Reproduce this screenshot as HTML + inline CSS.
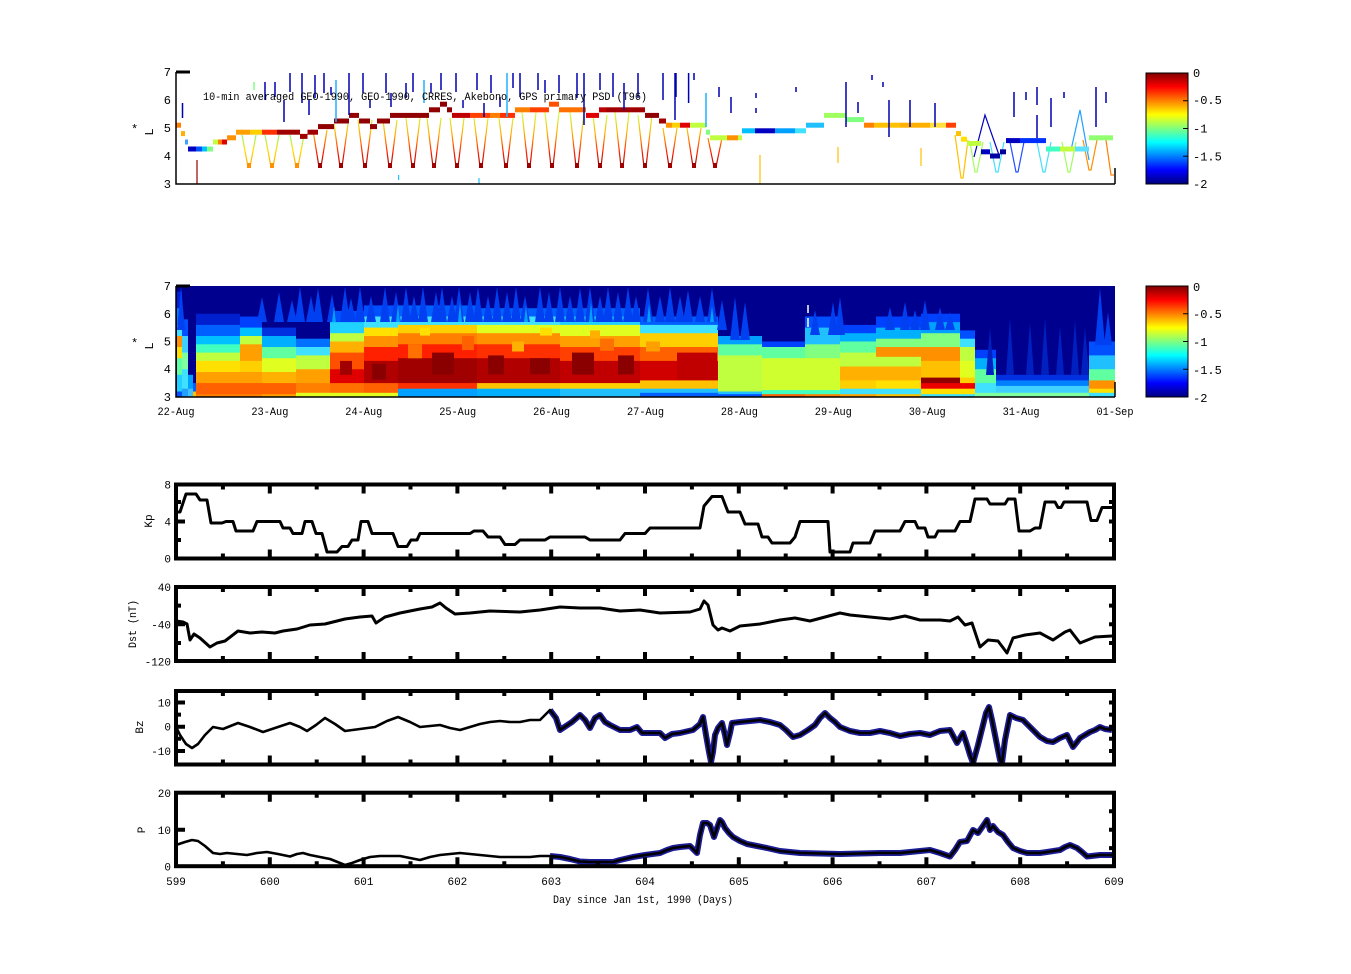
<!DOCTYPE html>
<html><head><meta charset="utf-8"><style>
html,body{margin:0;padding:0;background:#fff;width:1351px;height:974px;overflow:hidden}
svg{display:block}
text{font-family:"Liberation Mono","DejaVu Sans Mono",monospace;fill:#000}
</style></head><body>
<svg width="1351" height="974" viewBox="0 0 1351 974" xmlns="http://www.w3.org/2000/svg">
<defs>
<linearGradient id="jet" x1="0" y1="0" x2="0" y2="1">
<stop offset="0" stop-color="#800000"/><stop offset="0.125" stop-color="#ff0000"/><stop offset="0.375" stop-color="#ffff00"/><stop offset="0.625" stop-color="#00ffff"/><stop offset="0.875" stop-color="#0000ff"/><stop offset="1" stop-color="#000080"/>
</linearGradient>
<linearGradient id="vR" gradientUnits="userSpaceOnUse" x1="0" y1="115" x2="0" y2="168">
<stop offset="0" stop-color="#d0ff40"/><stop offset="0.35" stop-color="#ffb000"/><stop offset="0.7" stop-color="#ff2000"/><stop offset="1" stop-color="#900000"/>
</linearGradient>
<linearGradient id="vY" gradientUnits="userSpaceOnUse" x1="0" y1="130" x2="0" y2="168">
<stop offset="0" stop-color="#60ffa0"/><stop offset="0.5" stop-color="#ffe000"/><stop offset="1" stop-color="#ffa000"/>
</linearGradient>
<g id="tt"><path fill="none" stroke="#000" stroke-width="4" d="M269.8 0v9M363.6 0v9M457.4 0v9M551.2 0v9M645 0v9M738.8 0v9M832.6 0v9M926.4 0v9M1020.2 0v9M222.9 0v5M316.7 0v5M410.5 0v5M504.3 0v5M598.1 0v5M691.9 0v5M785.7 0v5M879.5 0v5M973.3 0v5M1067.1 0v5"/></g>
<g id="bt"><path fill="none" stroke="#000" stroke-width="4" d="M269.8 0v-9M363.6 0v-9M457.4 0v-9M551.2 0v-9M645 0v-9M738.8 0v-9M832.6 0v-9M926.4 0v-9M1020.2 0v-9M222.9 0v-5M316.7 0v-5M410.5 0v-5M504.3 0v-5M598.1 0v-5M691.9 0v-5M785.7 0v-5M879.5 0v-5M973.3 0v-5M1067.1 0v-5"/></g>
</defs>

<!-- ============ PANEL 1 ============ -->
<g fill="none" stroke-width="1.2">
<g stroke="url(#vY)">
<polyline points="242,135 248,167 250,167 256,135"/>
<polyline points="265,135 271,167 273,167 279,135"/>
<polyline points="290,135 296,167 298,167 304,135"/>
</g>
<g stroke="url(#vR)">
<polyline points="313,130 319,167 321,167 327,130"/>
<polyline points="334,124 340,167 342,167 348,124"/>
<polyline points="358,120 364,167 366,167 372,120"/>
<polyline points="383,120 389,167 391,167 397,120"/>
<polyline points="406,118 412,167 414,167 420,118"/>
<polyline points="427,118 433,167 435,167 441,118"/>
<polyline points="450,118 456,167 458,167 464,118"/>
<polyline points="474,118 480,167 482,167 488,118"/>
<polyline points="499,118 505,167 507,167 513,118"/>
<polyline points="522,112 528,167 530,167 536,112"/>
<polyline points="545,112 551,167 553,167 559,112"/>
<polyline points="570,112 576,167 578,167 584,112"/>
<polyline points="593,115 599,167 601,167 607,115"/>
<polyline points="615,112 621,167 623,167 629,112"/>
<polyline points="638,115 644,167 646,167 652,115"/>
<polyline points="663,128 669,167 671,167 677,128"/>
<polyline points="687,128 693,167 695,167 701,128"/>
<polyline points="708,138 714,167 716,167 722,138"/>
</g>
<polyline stroke="#ffc000" points="955,135 961,178 963,178 968,140"/>
<polyline stroke="#a0ff60" points="970,142 975,172 977,172 983,142"/>
<polyline stroke="#40e0ff" points="990,142 996,172 998,172 1004,142"/>
<polyline stroke="#2050ff" points="1010,142 1016,172 1018,172 1024,142"/>
<polyline stroke="#40e0ff" points="1037,142 1043,172 1045,172 1051,142"/>
<polyline stroke="#a0ff60" points="1062,142 1068,172 1070,172 1076,142"/>
<polyline stroke="#ff9000" points="1083,140 1089,170 1091,170 1097,140"/>
<polyline stroke="#ff8000" points="1106,140 1111,175 1114,175"/>
<polyline stroke="#0000c0" points="974,157 985,115 999,155"/>
<polyline stroke="#20a0ff" points="1071,150 1080,110 1089,160"/>
<path stroke="#ffc000" d="M760 155V184M838 147V163M921 148V166"/>
<path stroke="#900000" d="M197 160V184"/>
<path stroke="#20c0ff" d="M398.6 175V180M479 178V184"/>
</g>
<g fill="#a00000">
<rect x="318" y="163" width="4" height="5"/><rect x="339" y="163" width="4" height="5"/><rect x="363" y="163" width="4" height="5"/><rect x="388" y="163" width="4" height="5"/><rect x="411" y="163" width="4" height="5"/><rect x="432" y="163" width="4" height="5"/><rect x="455" y="163" width="4" height="5"/><rect x="479" y="163" width="4" height="5"/><rect x="504" y="163" width="4" height="5"/><rect x="527" y="163" width="4" height="5"/><rect x="550" y="163" width="4" height="5"/><rect x="575" y="163" width="4" height="5"/><rect x="598" y="163" width="4" height="5"/><rect x="620" y="163" width="4" height="5"/><rect x="643" y="163" width="4" height="5"/><rect x="668" y="163" width="4" height="5"/><rect x="692" y="163" width="4" height="5"/><rect x="713" y="163" width="4" height="5"/>
</g>
<g fill="#ff9000"><rect x="247" y="163" width="4" height="5"/><rect x="270" y="163" width="4" height="5"/><rect x="295" y="163" width="4" height="5"/></g>

<!-- band -->
<g>
<rect x="176" y="122.7" width="5" height="5" fill="#ff8000"/>
<rect x="181" y="131.1" width="4" height="5" fill="#ffb000"/>
<rect x="185" y="139.5" width="3" height="5" fill="#40a0ff"/>
<rect x="188" y="146.5" width="8" height="5" fill="#0000c0"/>
<rect x="196" y="146.5" width="6" height="5" fill="#0050ff"/>
<rect x="202" y="146.5" width="5" height="5" fill="#00c0ff"/>
<rect x="207" y="146.5" width="6" height="5" fill="#80ff80"/>
<rect x="213" y="139.5" width="5" height="5" fill="#c0ff40"/>
<rect x="218" y="139.5" width="4" height="5" fill="#ff8000"/>
<rect x="222" y="139.5" width="5" height="5" fill="#e00000"/>
<rect x="227" y="135.3" width="9" height="5" fill="#ff9000"/>
<rect x="236" y="129.7" width="14" height="5" fill="#ffa000"/>
<rect x="250" y="129.7" width="12" height="5" fill="#ffd000"/>
<rect x="262" y="129.7" width="15" height="5" fill="#ff3000"/>
<rect x="277" y="129.7" width="23" height="5" fill="#a00000"/>
<rect x="300" y="133.9" width="7.5" height="5" fill="#a00000"/>
<rect x="307.5" y="129.7" width="10.5" height="5" fill="#a00000"/>
<rect x="318" y="124.1" width="16" height="5" fill="#900000"/>
<rect x="334" y="118.5" width="15" height="5" fill="#900000"/>
<rect x="349" y="112.9" width="10" height="5" fill="#900000"/>
<rect x="359" y="118.5" width="11" height="5" fill="#900000"/>
<rect x="370" y="124.1" width="7" height="5" fill="#900000"/>
<rect x="377" y="118.5" width="13" height="5" fill="#900000"/>
<rect x="390" y="112.9" width="39" height="5" fill="#900000"/>
<rect x="429" y="107.3" width="11" height="5" fill="#900000"/>
<rect x="440" y="101.7" width="7" height="5" fill="#900000"/>
<rect x="447" y="107.3" width="5" height="5" fill="#900000"/>
<rect x="452" y="112.9" width="18" height="5" fill="#c00000"/>
<rect x="470" y="112.9" width="20" height="5" fill="#ff4000"/>
<rect x="490" y="112.9" width="10" height="5" fill="#ff8000"/>
<rect x="500" y="112.9" width="15" height="5" fill="#ff3000"/>
<rect x="515" y="107.3" width="15" height="5" fill="#ff8000"/>
<rect x="530" y="107.3" width="19" height="5" fill="#ff4000"/>
<rect x="549" y="101.7" width="10" height="5" fill="#ff5000"/>
<rect x="559" y="107.3" width="27" height="5" fill="#ff7000"/>
<rect x="586" y="112.9" width="13" height="5" fill="#e00000"/>
<rect x="599" y="107.3" width="7" height="5" fill="#c00000"/>
<rect x="606" y="107.3" width="39" height="5" fill="#a00000"/>
<rect x="645" y="112.9" width="14" height="5" fill="#900000"/>
<rect x="659" y="118.5" width="7" height="5" fill="#a00000"/>
<rect x="666" y="122.7" width="6" height="5" fill="#ff9000"/>
<rect x="672" y="122.7" width="8" height="5" fill="#ffd000"/>
<rect x="680" y="122.7" width="10" height="5" fill="#e00000"/>
<rect x="690" y="122.7" width="16" height="5" fill="#c0ff40"/>
<rect x="706" y="129.7" width="4" height="5" fill="#80ff80"/>
<rect x="710" y="135.3" width="17" height="5" fill="#c0ff40"/>
<rect x="727" y="135.3" width="11" height="5" fill="#ff9000"/>
<rect x="738" y="135.3" width="4" height="5" fill="#c0ff40"/>
<rect x="742" y="128.3" width="13" height="5" fill="#00c0ff"/>
<rect x="755" y="128.3" width="20" height="5" fill="#0000c0"/>
<rect x="775" y="128.3" width="20" height="5" fill="#00a0ff"/>
<rect x="795" y="128.3" width="11" height="5" fill="#40e0ff"/>
<rect x="806" y="122.7" width="18" height="5" fill="#20c0ff"/>
<rect x="824" y="112.9" width="22" height="5" fill="#a0ff60"/>
<rect x="846" y="117.1" width="18" height="5" fill="#80ff80"/>
<rect x="864" y="122.7" width="10" height="5" fill="#ff8000"/>
<rect x="874" y="122.7" width="26" height="5" fill="#ffc000"/>
<rect x="900" y="122.7" width="30" height="5" fill="#ffb000"/>
<rect x="930" y="122.7" width="16" height="5" fill="#ffe040"/>
<rect x="946" y="122.7" width="10" height="5" fill="#ff4000"/>
<rect x="956" y="131.1" width="5" height="5" fill="#ffc000"/>
<rect x="961" y="136.7" width="6" height="5" fill="#ffe000"/>
<rect x="967" y="140.9" width="14" height="5" fill="#c0ff40"/>
<rect x="981" y="149.3" width="9" height="5" fill="#0000c0"/>
<rect x="990" y="153.5" width="10" height="5" fill="#0000a0"/>
<rect x="1000" y="149.3" width="6" height="5" fill="#0000a0"/>
<rect x="1006" y="138.1" width="14" height="5" fill="#0000c0"/>
<rect x="1020" y="138.1" width="26" height="5" fill="#0030ff"/>
<rect x="1046" y="146.5" width="14" height="5" fill="#40ffc0"/>
<rect x="1060" y="146.5" width="15" height="5" fill="#c0ff40"/>
<rect x="1075" y="146.5" width="14" height="5" fill="#60e0ff"/>
<rect x="1089" y="135.3" width="24" height="5" fill="#90ff70"/>
</g>
<path fill="none" stroke="#0000b0" stroke-width="1.5" d="M182.5 103V118M265 82V100M275 82V97M284 100V122M290 73V92M302 73V103M309 100V115M315 75V98M324 73V93M331 87V95M349 73V115M363 73V93M370 100V108M386 73V93M391 93V107M406 83V98M413 73V92M431 83V93M441 73V90M456 73V92M463 100V108M477 73V90M484 103V117M491 75V93M500 97V107M513 73V88M520 73V97M538 73V90M545 80V93M559 75V93M577 73V98M584 73V125M600 73V90M613 73V97M624 83V110M638 73V98M663 73V100M675 73V120M676 73V97M688.6 73V103M694 73V80M719 87V97M731 97V113M756 93V98M756 108V113M796 87V92M846 82V127M858 102V113M872 75V80M883 82V87M889 100V137M910 100V127M935 103V127M1014 92V117M1026 92V100M1037 87V105M1037 115V138M1051 98V127M1064 92V98M1096 87V127M1106 92V103"/>
<path fill="none" stroke="#20b0ff" stroke-width="1.5" d="M336 80V122M424 80V103M507 73V117M706 93V127"/>
<path fill="none" stroke="#80ff80" stroke-width="1.5" d="M254 82V90"/>
<!-- axes panel 1 -->
<path fill="none" stroke="#000" stroke-width="1.5" d="M176 72V184H1115M1115 168V184"/>
<path stroke="#000" stroke-width="3" d="M176 72H190"/>
<text x="203" y="100" font-size="11" textLength="444" lengthAdjust="spacingAndGlyphs">10-min averaged GEO-1990, GEO-1990, CRRES, Akebono, GPS  primary PSD (T96)</text>
<g font-size="12" text-anchor="end">
<text x="171" y="76">7</text><text x="171" y="104">6</text><text x="171" y="132">5</text><text x="171" y="160">4</text><text x="171" y="188">3</text>
</g>
<text x="131" y="133" font-size="12">*</text>
<text transform="translate(153,132) rotate(-90)" text-anchor="middle" font-size="12">L</text>
<!-- colorbar 1 -->
<rect x="1146" y="73" width="42" height="111" fill="url(#jet)" stroke="#000" stroke-width="1"/>
<path stroke="#000" stroke-width="1" d="M1183 100.75h5M1183 128.5h5M1183 156.25h5"/>
<g font-size="12"><text x="1193" y="77">0</text><text x="1193" y="104">-0.5</text><text x="1193" y="132.5">-1</text><text x="1193" y="160.5">-1.5</text><text x="1193" y="188">-2</text></g>

<!-- ============ PANEL 2 (heatmap) ============ -->
<rect x="176" y="286" width="939" height="111" fill="#00008f"/>
<g>
<!-- R1 -->
<rect x="177" width="5" y="291.5" height="105.5" fill="#0020e0"/>
<rect x="177" width="5" y="308.2" height="88.8" fill="#0080ff"/>
<rect x="177" width="5" y="324.9" height="72.1" fill="#40e0ff"/>
<rect x="177" width="5" y="336" height="61" fill="#ff9000"/>
<rect x="177" width="5" y="347" height="50" fill="#ffe000"/>
<rect x="177" width="5" y="358.2" height="38.8" fill="#60ffa0"/>
<rect x="177" width="5" y="374.8" height="22.2" fill="#20d0ff"/>
<rect x="177" width="5" y="391.5" height="5.5" fill="#0050ff"/>
<!-- R2 -->
<rect x="182" width="6" y="319.3" height="77.7" fill="#0050ff"/>
<rect x="182" width="6" y="336" height="61" fill="#40d0ff"/>
<rect x="182" width="6" y="352.6" height="44.4" fill="#80ffa0"/>
<rect x="182" width="6" y="369.25" height="27.75" fill="#40e0ff"/>
<rect x="182" width="6" y="388.7" height="8.3" fill="#20a0ff"/>
<rect x="188" width="5" y="374.8" height="22.2" fill="#00a0ff"/>
<rect x="188" width="5" y="388.7" height="8.3" fill="#40c0ff"/>
<rect x="193" width="3" y="383.1" height="13.9" fill="#0060ff"/>
<rect x="193" width="3" y="391.5" height="5.5" fill="#ffc000"/>
<!-- R3 -->
<rect x="196" width="44" y="313.75" height="83.25" fill="#0020d0"/>
<rect x="196" width="44" y="324.9" height="72.1" fill="#0060ff"/>
<rect x="196" width="44" y="336" height="61" fill="#00c0ff"/>
<rect x="196" width="44" y="344.3" height="52.7" fill="#40ffc0"/>
<rect x="196" width="44" y="352.6" height="44.4" fill="#c0ff40"/>
<rect x="196" width="44" y="360.9" height="36.1" fill="#ffe000"/>
<rect x="196" width="44" y="372" height="25" fill="#ffa000"/>
<rect x="196" width="44" y="383.1" height="13.9" fill="#ff6000"/>
<rect x="196" width="44" y="394.2" height="2.8" fill="#ff8000"/>
<!-- R4 -->
<rect x="240" width="22" y="316.5" height="80.5" fill="#0040ff"/>
<rect x="240" width="22" y="327.6" height="69.4" fill="#00c0ff"/>
<rect x="240" width="22" y="336" height="61" fill="#c0ff40"/>
<rect x="240" width="22" y="344.3" height="52.7" fill="#ffa000"/>
<rect x="240" width="22" y="360.9" height="36.1" fill="#ffd000"/>
<rect x="240" width="22" y="372" height="25" fill="#ffa000"/>
<rect x="240" width="22" y="383.1" height="13.9" fill="#ff6000"/>
<rect x="240" width="22" y="394.2" height="2.8" fill="#ff8000"/>
<!-- R5 -->
<rect x="262" width="34" y="327.6" height="69.4" fill="#0030e0"/>
<rect x="262" width="34" y="336" height="61" fill="#00b0ff"/>
<rect x="262" width="34" y="347" height="50" fill="#60ffa0"/>
<rect x="262" width="34" y="358.2" height="38.8" fill="#e0ff20"/>
<rect x="262" width="34" y="372" height="25" fill="#ffb000"/>
<rect x="262" width="34" y="383.1" height="13.9" fill="#ff6000"/>
<rect x="262" width="34" y="394.2" height="2.8" fill="#ffa000"/>
<!-- R6 -->
<rect x="296" width="34" y="338.7" height="58.3" fill="#0070ff"/>
<rect x="296" width="34" y="347" height="50" fill="#40e0ff"/>
<rect x="296" width="34" y="355.4" height="41.6" fill="#c0ff40"/>
<rect x="296" width="34" y="369.25" height="27.75" fill="#ffa000"/>
<rect x="296" width="34" y="383.1" height="13.9" fill="#ff8000"/>
<rect x="296" width="34" y="392.8" height="4.2" fill="#e0ff20"/>
<!-- R7 -->
<rect x="330" width="34" y="311" height="86" fill="#0050ff"/>
<rect x="330" width="34" y="322.1" height="74.9" fill="#20d0ff"/>
<rect x="330" width="34" y="333.2" height="63.8" fill="#c0ff40"/>
<rect x="330" width="34" y="341.5" height="55.5" fill="#ffb000"/>
<rect x="330" width="34" y="352.6" height="44.4" fill="#ff5000"/>
<rect x="330" width="34" y="369.25" height="27.75" fill="#e00000"/>
<rect x="340" width="12" y="360.9" height="13.9" fill="#a00000"/>
<rect x="330" width="34" y="383.1" height="13.9" fill="#ff7000"/>
<rect x="330" width="34" y="392.8" height="4.2" fill="#e0ff20"/>
<!-- R8 -->
<rect x="364" width="34" y="305.4" height="91.6" fill="#0050ff"/>
<rect x="364" width="34" y="316.5" height="80.5" fill="#40e0ff"/>
<rect x="364" width="34" y="327.6" height="69.4" fill="#ffe000"/>
<rect x="364" width="34" y="336" height="61" fill="#ff9000"/>
<rect x="364" width="34" y="347" height="50" fill="#ff2000"/>
<rect x="364" width="34" y="360.9" height="36.1" fill="#b00000"/>
<rect x="364" width="34" y="383.1" height="13.9" fill="#ff6000"/>
<rect x="364" width="34" y="392.8" height="4.2" fill="#e0ff20"/>
<!-- R9 -->
<rect x="398" width="79" y="305.4" height="91.6" fill="#0060ff"/>
<rect x="398" width="79" y="316.5" height="80.5" fill="#40e0ff"/>
<rect x="398" width="79" y="324.9" height="72.1" fill="#ffd000"/>
<rect x="398" width="79" y="333.2" height="63.8" fill="#ff8000"/>
<rect x="398" width="79" y="344.3" height="52.7" fill="#ff2000"/>
<rect x="398" width="79" y="358.2" height="38.8" fill="#a00000"/>
<rect x="398" width="79" y="383.1" height="13.9" fill="#ff3000"/>
<rect x="398" width="79" y="388.7" height="8.3" fill="#00a0ff"/>
<!-- R10 -->
<rect x="477" width="83" y="308.2" height="88.8" fill="#0060ff"/>
<rect x="477" width="83" y="316.5" height="80.5" fill="#40e0ff"/>
<rect x="477" width="83" y="324.9" height="72.1" fill="#e0ff20"/>
<rect x="477" width="83" y="333.2" height="63.8" fill="#ff9000"/>
<rect x="477" width="83" y="344.3" height="52.7" fill="#ff3000"/>
<rect x="477" width="83" y="358.2" height="38.8" fill="#b00000"/>
<rect x="477" width="83" y="383.1" height="13.9" fill="#ffc000"/>
<rect x="477" width="83" y="388.7" height="8.3" fill="#00b0ff"/>
<!-- R11 -->
<rect x="560" width="80" y="308.2" height="88.8" fill="#0060ff"/>
<rect x="560" width="80" y="316.5" height="80.5" fill="#20d0ff"/>
<rect x="560" width="80" y="324.9" height="72.1" fill="#e0ff20"/>
<rect x="560" width="80" y="336" height="61" fill="#ffa000"/>
<rect x="560" width="80" y="347" height="50" fill="#ff4000"/>
<rect x="560" width="80" y="360.9" height="36.1" fill="#c00000"/>
<rect x="560" width="80" y="383.1" height="13.9" fill="#ffd000"/>
<rect x="560" width="80" y="388.7" height="8.3" fill="#20c0ff"/>
<!-- R12 -->
<rect x="640" width="78" y="316.5" height="80.5" fill="#0060ff"/>
<rect x="640" width="78" y="324.9" height="72.1" fill="#40e0ff"/>
<rect x="640" width="78" y="333.2" height="63.8" fill="#ffd000"/>
<rect x="640" width="78" y="347" height="50" fill="#ff6000"/>
<rect x="640" width="78" y="360.9" height="36.1" fill="#d00000"/>
<rect x="677" width="40" y="352.6" height="27.75" fill="#c00000"/>
<rect x="640" width="78" y="380.4" height="16.6" fill="#ffc000"/>
<rect x="640" width="78" y="388.7" height="8.3" fill="#20c0ff"/>
<rect x="640" width="78" y="392.8" height="4.2" fill="#0060ff"/>
<!-- texture patches in red region -->
<rect x="408" width="14" y="344.3" height="14" fill="#ff7000"/>
<rect x="432" width="22" y="352.6" height="22" fill="#8a0000"/>
<rect x="462" width="12" y="336" height="14" fill="#ff6000"/>
<rect x="488" width="16" y="355.4" height="19" fill="#8a0000"/>
<rect x="512" width="12" y="341.5" height="10" fill="#ffb000"/>
<rect x="530" width="20" y="358.2" height="16" fill="#8a0000"/>
<rect x="572" width="22" y="352.6" height="22" fill="#8a0000"/>
<rect x="600" width="14" y="338.7" height="12" fill="#ff7000"/>
<rect x="618" width="16" y="355.4" height="19" fill="#8a0000"/>
<rect x="646" width="14" y="341.5" height="10" fill="#ffa000"/>
<rect x="372" width="14" y="363.7" height="16" fill="#8a0000"/>
<rect x="420" width="10" y="327.6" height="8" fill="#ffe000"/>
<rect x="540" width="12" y="327.6" height="8" fill="#ffe000"/>
<rect x="590" width="10" y="330.4" height="8" fill="#ffb000"/>
<!-- R13 -->
<rect x="718" width="44" y="336" height="61" fill="#00a0ff"/>
<rect x="718" width="44" y="344.3" height="52.7" fill="#60ffa0"/>
<rect x="718" width="44" y="355.4" height="41.6" fill="#c0ff40"/>
<rect x="718" width="44" y="391.5" height="5.5" fill="#20c0ff"/>
<rect x="718" width="44" y="394.2" height="2.8" fill="#0050ff"/>
<!-- R14 -->
<rect x="762" width="43" y="341.5" height="55.5" fill="#0040ff"/>
<rect x="762" width="43" y="347" height="50" fill="#60ffa0"/>
<rect x="762" width="43" y="358.2" height="38.8" fill="#d0ff30"/>
<rect x="762" width="43" y="390.1" height="6.9" fill="#40ffc0"/>
<rect x="762" width="43" y="394.2" height="2.8" fill="#ff6000"/>
<!-- R15 -->
<rect x="805" width="35" y="316.5" height="80.5" fill="#0050ff"/>
<rect x="805" width="35" y="327.6" height="69.4" fill="#20c0ff"/>
<rect x="805" width="35" y="344.3" height="52.7" fill="#80ff80"/>
<rect x="805" width="35" y="358.2" height="38.8" fill="#d0ff30"/>
<rect x="805" width="35" y="390.1" height="6.9" fill="#40ffc0"/>
<rect x="805" width="35" y="394.2" height="2.8" fill="#ff8000"/>
<!-- R16 -->
<rect x="840" width="36" y="324.9" height="72.1" fill="#0040ff"/>
<rect x="840" width="36" y="333.2" height="63.8" fill="#00b0ff"/>
<rect x="840" width="36" y="341.5" height="55.5" fill="#60ffa0"/>
<rect x="840" width="36" y="352.6" height="44.4" fill="#c0ff40"/>
<rect x="840" width="36" y="366.5" height="30.5" fill="#ffb000"/>
<rect x="840" width="36" y="380.4" height="16.6" fill="#ffd000"/>
<rect x="840" width="36" y="388.7" height="8.3" fill="#40e0ff"/>
<rect x="840" width="36" y="394.2" height="2.8" fill="#ffa000"/>
<!-- R17 -->
<rect x="876" width="45" y="316.5" height="80.5" fill="#0040ff"/>
<rect x="876" width="45" y="327.6" height="69.4" fill="#00b0ff"/>
<rect x="876" width="45" y="338.7" height="58.3" fill="#80ff80"/>
<rect x="876" width="45" y="347" height="50" fill="#ff9000"/>
<rect x="876" width="45" y="356.8" height="40.2" fill="#c0ff40"/>
<rect x="876" width="45" y="366.5" height="30.5" fill="#ffb000"/>
<rect x="876" width="45" y="380.4" height="16.6" fill="#ffe000"/>
<rect x="876" width="45" y="388.7" height="8.3" fill="#40e0ff"/>
<rect x="876" width="45" y="394.2" height="2.8" fill="#ffc000"/>
<!-- R18 -->
<rect x="921" width="39" y="313.75" height="83.25" fill="#0040ff"/>
<rect x="921" width="39" y="322.1" height="74.9" fill="#00a0ff"/>
<rect x="921" width="39" y="333.2" height="63.8" fill="#80ff80"/>
<rect x="921" width="39" y="347" height="50" fill="#ff9000"/>
<rect x="921" width="39" y="360.9" height="36.1" fill="#ffc000"/>
<rect x="921" width="39" y="377.6" height="19.4" fill="#900000"/>
<rect x="921" width="39" y="383.1" height="13.9" fill="#ee0000"/>
<rect x="921" width="39" y="388.7" height="8.3" fill="#ffe000"/>
<rect x="921" width="39" y="394.2" height="2.8" fill="#40e0ff"/>
<!-- R19 -->
<rect x="960" width="15" y="330.4" height="66.6" fill="#0050ff"/>
<rect x="960" width="15" y="338.7" height="58.3" fill="#40e0ff"/>
<rect x="960" width="15" y="347" height="50" fill="#c0ff40"/>
<rect x="960" width="15" y="360.9" height="36.1" fill="#e0ff20"/>
<rect x="960" width="15" y="377.6" height="19.4" fill="#ffd000"/>
<rect x="960" width="15" y="383.1" height="13.9" fill="#ee0000"/>
<rect x="960" width="15" y="388.7" height="8.3" fill="#ffe000"/>
<rect x="960" width="15" y="394.2" height="2.8" fill="#40e0ff"/>
<!-- R20 -->
<rect x="975" width="21" y="349.8" height="47.2" fill="#0040ff"/>
<rect x="975" width="21" y="358.2" height="38.8" fill="#00b0ff"/>
<rect x="975" width="21" y="369.25" height="27.75" fill="#60ffa0"/>
<rect x="975" width="21" y="383.1" height="13.9" fill="#40e0ff"/>
<rect x="975" width="21" y="392.8" height="4.2" fill="#80ffa0"/>
<!-- R21 -->
<rect x="996" width="93" y="374.8" height="22.2" fill="#0030e0"/>
<rect x="996" width="93" y="380.4" height="16.6" fill="#0080ff"/>
<rect x="996" width="93" y="385.9" height="11.1" fill="#40d0ff"/>
<rect x="996" width="93" y="392.8" height="4.2" fill="#80ffa0"/>
<!-- R22 -->
<rect x="1089" width="26" y="341.5" height="55.5" fill="#0050ff"/>
<rect x="1089" width="26" y="355.4" height="41.6" fill="#20c0ff"/>
<rect x="1089" width="26" y="369.25" height="27.75" fill="#60ffa0"/>
<rect x="1089" width="26" y="380.4" height="16.6" fill="#ff9000"/>
<rect x="1089" width="26" y="388.7" height="8.3" fill="#ffe000"/>
<rect x="1089" width="26" y="392.8" height="4.2" fill="#40e0ff"/>
</g>
<!-- spikes -->
<path fill="#0040f0" d="M177 330L181 286L185 330ZM257 322L262 297L267 322ZM274 322L279 292L284 322ZM287 322L292 300L297 322ZM295 322L300 287L305 322ZM306 322L311 296L316 322ZM313 322L318 288L323 322ZM327 322L332 294L337 322ZM340 322L345 287L350 322ZM346 322L351 298L356 322ZM355 322L360 287L365 322ZM366 322L371 296L376 322ZM380 322L385 287L390 322ZM391 322L396 292L401 322ZM401 322L406 287L411 322ZM409 322L414 296L419 322ZM418 322L423 287L428 322ZM431 322L436 292L441 322ZM437 322L442 287L447 322ZM447 322L452 296L457 322ZM454 322L459 287L464 322ZM465 322L470 292L475 322ZM473 322L478 287L483 322ZM483 322L488 296L493 322ZM492 322L497 287L502 322ZM502 322L507 292L512 322ZM511 322L516 287L521 322ZM520 322L525 296L530 322ZM535 322L540 287L545 322ZM544 322L549 292L554 322ZM555 322L560 287L565 322ZM565 322L570 296L575 322ZM575 322L580 288L585 322ZM585 322L590 287L595 322ZM595 322L600 296L605 322ZM603 322L608 287L613 322ZM613 322L618 292L623 322ZM623 322L628 287L633 322ZM631 322L636 296L641 322ZM643 322L648 288L653 322ZM655 322L660 296L665 322ZM665 322L670 287L675 322ZM675 322L680 296L685 322ZM683 322L688 290L693 322ZM695 322L700 296L705 322ZM707 322L712 288L717 322ZM717 330L722 300L727 330ZM730 340L735 297L740 340ZM740 340L745 302L750 340ZM810 335L815 310L820 335ZM828 335L833 302L838 335ZM835 335L840 297L845 335ZM885 330L890 307L895 330ZM900 330L905 302L910 330ZM910 330L915 310L920 330ZM920 330L925 300L930 330ZM935 330L940 307L945 330ZM945 330L950 312L955 330ZM1095 345L1100 288L1105 345ZM1104 345L1108 312L1112 345Z"/>
<path fill="#00a0ff" d="M332 322L334 306L336 322ZM396 322L398 304L400 322ZM458 322L460 302L462 322ZM524 322L526 306L528 322ZM589 322L591 302L593 322ZM647 322L649 304L651 322ZM710 322L712 306L714 322Z"/>
<path fill="#0020c0" d="M986 375L990 328L994 375ZM1006 375L1010 318L1014 375ZM1026 375L1030 323L1034 375ZM1041 375L1045 318L1049 375ZM1056 375L1060 326L1064 375ZM1071 375L1075 320L1079 375ZM1081 375L1085 328L1089 375Z"/>
<path stroke="#fff" stroke-width="1.5" d="M808 305V313M808 318V327"/>
<!-- axes panel 2 -->
<path fill="none" stroke="#000" stroke-width="1.5" d="M176 286V397H1115M1115 382V397"/>
<path stroke="#000" stroke-width="3" d="M176 286H190"/>
<g font-size="12" text-anchor="end">
<text x="171" y="290">7</text><text x="171" y="318">6</text><text x="171" y="345.5">5</text><text x="171" y="373">4</text><text x="171" y="401">3</text>
</g>
<text x="131" y="347" font-size="12">*</text>
<text transform="translate(153,346) rotate(-90)" text-anchor="middle" font-size="12">L</text>
<g font-size="11" text-anchor="middle">
<text x="176" y="415" textLength="37" lengthAdjust="spacingAndGlyphs">22-Aug</text>
<text x="269.9" y="415" textLength="37" lengthAdjust="spacingAndGlyphs">23-Aug</text>
<text x="363.8" y="415" textLength="37" lengthAdjust="spacingAndGlyphs">24-Aug</text>
<text x="457.7" y="415" textLength="37" lengthAdjust="spacingAndGlyphs">25-Aug</text>
<text x="551.6" y="415" textLength="37" lengthAdjust="spacingAndGlyphs">26-Aug</text>
<text x="645.5" y="415" textLength="37" lengthAdjust="spacingAndGlyphs">27-Aug</text>
<text x="739.4" y="415" textLength="37" lengthAdjust="spacingAndGlyphs">28-Aug</text>
<text x="833.3" y="415" textLength="37" lengthAdjust="spacingAndGlyphs">29-Aug</text>
<text x="927.2" y="415" textLength="37" lengthAdjust="spacingAndGlyphs">30-Aug</text>
<text x="1021.1" y="415" textLength="37" lengthAdjust="spacingAndGlyphs">31-Aug</text>
<text x="1115" y="415" textLength="37" lengthAdjust="spacingAndGlyphs">01-Sep</text>
</g>
<!-- colorbar 2 -->
<rect x="1146" y="286" width="42" height="111" fill="url(#jet)" stroke="#000" stroke-width="1"/>
<path stroke="#000" stroke-width="1" d="M1183 313.75h5M1183 341.5h5M1183 369.25h5"/>
<g font-size="12"><text x="1193" y="291">0</text><text x="1193" y="318">-0.5</text><text x="1193" y="346">-1</text><text x="1193" y="374">-1.5</text><text x="1193" y="402">-2</text></g>

<!-- ============ BOTTOM PANELS ============ -->
<!-- Kp -->
<polyline fill="none" stroke="#000" stroke-width="3" stroke-linejoin="round" points="176,512 180,512 186,494 196,494 200,500 207,500 211,523 222,523 226,521.5 233,521.5 236,531 253,531 257,521.5 280,521.5 283,528 290,528 293,533.5 302,533.5 305,521.5 312,521.5 316,533.5 322,533.5 327,552 337,552 342,546.5 348,546.5 352,540 358,540 361,521.5 368,521.5 372,533.5 393,533.5 398,546.5 407,546.5 411,540 417,540 420,533.5 470,533.5 474,531 483,531 488,537 500,537 505,544.5 515,544.5 520,540 545,540 550,537 585,537 590,540 620,540 625,533.5 645,533.5 650,528 700,528 704,506 712,496.5 722,496.5 728,512 740,512 745,524 758,524 762,537 768,537 772,543 790,543 795,537 800,521.5 828,521.5 830,552 850,552 853,543 870,543 875,531 900,531 905,521.5 915,521.5 918,528 925,528 928,537 935,537 938,531 955,531 960,521.5 970,521.5 975,499 987,499 990,504 1005,504 1008,499 1015,499 1019,531 1030,531 1035,528 1040,528 1045,502 1055,502 1058,507.5 1061,507.5 1064,502 1087,502 1091,520.5 1097,520.5 1102,507.5 1112,507.5"/>
<rect x="176" y="484.5" width="938" height="74" fill="none" stroke="#000" stroke-width="4"/>
<use href="#tt" y="484.5"/><use href="#bt" y="558.5"/>
<path stroke="#000" stroke-width="4" d="M176 502h5M176 521.5h9M176 540h5M1114 502h-5M1114 521.5h-5M1114 540h-5"/>
<g font-size="11" text-anchor="end"><text x="171" y="488.5">8</text><text x="171" y="525.5">4</text><text x="171" y="562.5">0</text></g>
<text transform="translate(152,521) rotate(-90)" text-anchor="middle" font-size="11">Kp</text>

<!-- Dst -->
<polyline fill="none" stroke="#000" stroke-width="3" stroke-linejoin="round" points="176,621 183,622 187,624 190,640 194,634 200,638 210,647 217,643 225,641 238,631 250,633 262,632 275,633 283,631 297,629 310,625 325,624 345,619 360,617 372,616 376,623 385,617 400,613 420,609 432,607 440,603 446,608 455,614 470,613 490,611 520,612 540,610 560,607 580,608 600,608 620,611 640,610 660,613 690,612 700,609 704,601 708,605 713,625 718,630 722,628 730,631 740,626 760,624 780,620 795,618 810,621 825,617 840,613 850,615 870,617 890,619 905,616 920,620 940,620 950,621 958,617 965,625 972,623 980,647 988,640 998,641 1007,653 1013,638 1025,635 1040,633 1053,640 1065,632 1070,630 1080,643 1095,637 1112,636"/>
<rect x="176" y="587" width="938" height="74" fill="none" stroke="#000" stroke-width="4"/>
<use href="#tt" y="587"/><use href="#bt" y="661"/>
<path stroke="#000" stroke-width="4" d="M176 605.6h5M176 624.3h9M176 643h5M1114 605.6h-5M1114 624.3h-5M1114 643h-5"/>
<g font-size="11" text-anchor="end"><text x="171" y="591">40</text><text x="171" y="628.3">-40</text><text x="171" y="665.5">-120</text></g>
<text transform="translate(136,624) rotate(-90)" text-anchor="middle" font-size="11" textLength="48" lengthAdjust="spacingAndGlyphs">Dst (nT)</text>

<!-- Bz -->
<polyline fill="none" stroke="#1c1c96" stroke-width="6" stroke-linejoin="round" points="550,710 556,718 560,730 566,726 572,722 580,715 585,720 590,728 595,718 600,715 605,722 610,725 620,730 630,730 637,727 642,733 650,733 660,733 665,738 672,734 680,733 693,730 700,724 703,717 706,735 709,752 711,762 713,752 715,735 718,728 722,723 725,735 727,745 730,733 732,723 740,722 750,721 760,720 770,722 780,725 786,730 793,737 800,735 808,730 815,725 820,718 825,713 830,718 835,722 840,727 850,731 860,733 870,733 880,731 890,733 900,736 910,734 920,733 930,735 940,731 950,730 957,743 963,733 967,745 970,755 973,763 978,745 983,725 986,713 989,707 992,720 996,740 1000,760 1002,763 1005,740 1010,715 1016,718 1023,720 1030,727 1040,737 1047,741 1053,742 1060,738 1067,735 1073,747 1077,742 1080,738 1085,735 1090,732 1095,730 1100,727 1105,729 1112,730"/>
<polyline fill="none" stroke="#000" stroke-width="2.6" stroke-linejoin="round" points="176,727 180,735 186,744 192,748 198,744 205,735 213,727 223,729 238,723 250,727 263,732 275,728 290,723 300,727 307,731 316,725 325,718 335,724 345,731 360,729 375,727 387,721 398,717 410,722 420,727 440,725 450,728 460,730 470,727 480,724 490,722 500,721 510,722 520,722 530,720 540,720 550,710 556,718 560,730 566,726 572,722 580,715 585,720 590,728 595,718 600,715 605,722 610,725 620,730 630,730 637,727 642,733 650,733 660,733 665,738 672,734 680,733 693,730 700,724 703,717 706,735 709,752 711,762 713,752 715,735 718,728 722,723 725,735 727,745 730,733 732,723 740,722 750,721 760,720 770,722 780,725 786,730 793,737 800,735 808,730 815,725 820,718 825,713 830,718 835,722 840,727 850,731 860,733 870,733 880,731 890,733 900,736 910,734 920,733 930,735 940,731 950,730 957,743 963,733 967,745 970,755 973,763 978,745 983,725 986,713 989,707 992,720 996,740 1000,760 1002,763 1005,740 1010,715 1016,718 1023,720 1030,727 1040,737 1047,741 1053,742 1060,738 1067,735 1073,747 1077,742 1080,738 1085,735 1090,732 1095,730 1100,727 1105,729 1112,730"/>
<rect x="176" y="691" width="938" height="73.5" fill="none" stroke="#000" stroke-width="4"/>
<use href="#tt" y="691"/><use href="#bt" y="764.5"/>
<path stroke="#000" stroke-width="4" d="M176 702.5h9M176 714.6h5M176 726.7h9M176 738.8h5M176 751h9M1114 702.5h-5M1114 714.6h-5M1114 726.7h-5M1114 738.8h-5M1114 751h-5"/>
<g font-size="11" text-anchor="end"><text x="171" y="706.5">10</text><text x="171" y="730.7">0</text><text x="171" y="755">-10</text></g>
<text transform="translate(143,727) rotate(-90)" text-anchor="middle" font-size="11">Bz</text>

<!-- P -->
<polyline fill="none" stroke="#1c1c96" stroke-width="6" stroke-linejoin="round" points="550,856 560,857 570,859 580,861.5 590,862 600,862 613,862 620,860 633,857 645,855 660,853 667,850 673,848 680,847 690,846 697,853 700,835 703,823 707,823 710,825 714,837 717,828 720,820 722,822 725,828 729,833 733,837 740,841 747,844 757,846 767,848 780,851 790,852 800,853 820,853.5 840,854 860,853.5 880,853 900,853 910,852 920,851 930,850 940,853 950,856.5 955,850 960,842 967,841 973,830 978,833 983,826 987,820 990,830 993,826 998,832 1003,835 1008,842 1013,848 1020,851 1027,853 1040,853 1047,852 1060,850 1065,847 1070,845 1077,848 1082,852 1087,856.5 1100,855 1112,855"/>
<polyline fill="none" stroke="#000" stroke-width="2.6" stroke-linejoin="round" points="176,845 185,842 192,840 198,841 205,846 213,853 220,854 227,853 237,854 247,855 257,853 267,852 278,854 290,856.5 297,854 303,853 310,855 320,857 330,859 340,863 345,865 352,863 360,860 370,857 380,856 390,856 400,856 410,858 420,860 430,857 440,855 450,854 460,853 470,854 480,855 490,856 500,857 510,857 520,857 530,857 540,856 550,856 560,857 570,859 580,861.5 590,862 600,862 613,862 620,860 633,857 645,855 660,853 667,850 673,848 680,847 690,846 697,853 700,835 703,823 707,823 710,825 714,837 717,828 720,820 722,822 725,828 729,833 733,837 740,841 747,844 757,846 767,848 780,851 790,852 800,853 820,853.5 840,854 860,853.5 880,853 900,853 910,852 920,851 930,850 940,853 950,856.5 955,850 960,842 967,841 973,830 978,833 983,826 987,820 990,830 993,826 998,832 1003,835 1008,842 1013,848 1020,851 1027,853 1040,853 1047,852 1060,850 1065,847 1070,845 1077,848 1082,852 1087,856.5 1100,855 1112,855"/>
<rect x="176" y="792.7" width="938" height="73.5" fill="none" stroke="#000" stroke-width="4"/>
<use href="#tt" y="792.7"/><use href="#bt" y="866.2"/>
<path stroke="#000" stroke-width="4" d="M176 829.7h9M1114 811.3h-5M1114 829.7h-5M1114 848.1h-5"/>
<g font-size="11" text-anchor="end"><text x="171" y="797">20</text><text x="171" y="834">10</text><text x="171" y="870.5">0</text></g>
<text transform="translate(145,830) rotate(-90)" text-anchor="middle" font-size="11">P</text>
<g font-size="11" text-anchor="middle">
<text x="176" y="885">599</text><text x="269.8" y="885">600</text><text x="363.6" y="885">601</text><text x="457.4" y="885">602</text><text x="551.2" y="885">603</text><text x="645" y="885">604</text><text x="738.8" y="885">605</text><text x="832.6" y="885">606</text><text x="926.4" y="885">607</text><text x="1020.2" y="885">608</text><text x="1114" y="885">609</text>
</g>
<text x="643" y="903" font-size="11" text-anchor="middle" textLength="180" lengthAdjust="spacingAndGlyphs">Day since Jan 1st, 1990 (Days)</text>
</svg>
</body></html>
